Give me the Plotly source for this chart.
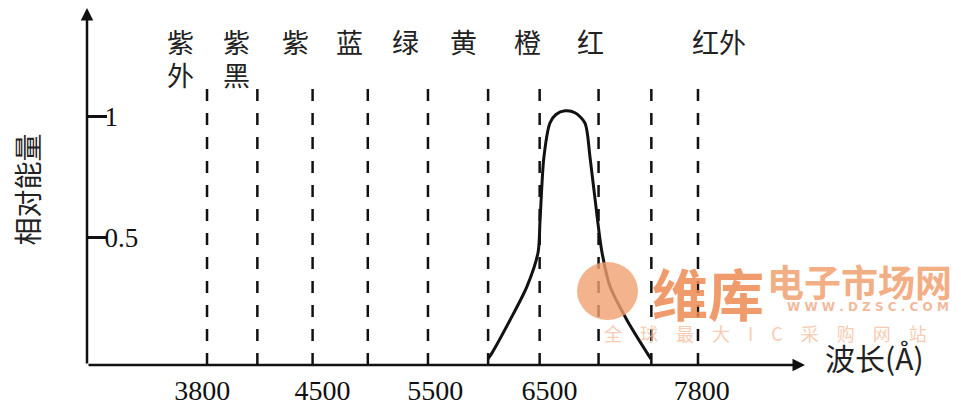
import plotly.graph_objects as go

# ---- data (schematic wavelength scale) ----
boundaries = [3800, 4210, 4660, 5110, 5600, 6090, 6510, 6990, 7420, 7800]
band_line1 = ["紫", "紫", "紫", "蓝", "绿", "黄", "橙", "红", "红外"]
band_line2 = ["外", "黑", "", "", "", "", "", "", ""]
band_label_x = [3580, 4036, 4517, 4957, 5413, 5886, 6415, 6928, 7971]
tick_pos = [3760, 4740, 5660, 6590, 7830]
tick_text = ["3800", "4500", "5500", "6500", "7800"]
curve_x = [6089, 6122, 6268, 6407, 6497, 6513, 6545, 6594, 6643, 6717,
           6798, 6879, 6920, 6985, 7018, 7083, 7222, 7385, 7417]
curve_y = [0.0, 0.025, 0.16, 0.30, 0.44, 0.57, 0.835, 0.975, 1.01, 1.025,
           1.017, 0.975, 0.835, 0.56, 0.44, 0.30, 0.16, 0.025, 0.0]
y_ticks = [0.5, 1]
y_tick_text = ["0.5", "1"]

X0, X1 = 2822, 8672
Y0, Y1 = -0.025, 1.45
LINE_TOP = 1.14

serif = "Liberation Serif, Times New Roman, serif"
cjk = "Noto Sans CJK SC, Noto Sans, sans-serif"

fig = go.Figure()

# dashed boundary lines
dx, dy = [], []
for b in boundaries:
    dx += [b, b, None]
    dy += [Y0, LINE_TOP, None]
fig.add_trace(go.Scatter(x=dx, y=dy, mode="lines",
                         line=dict(color="#111", width=2.5, dash="12px,12px"),
                         hoverinfo="skip", showlegend=False))

# relative energy curve
fig.add_trace(go.Scatter(x=curve_x, y=curve_y, mode="lines",
                         line=dict(color="#111", width=3, shape="spline", smoothing=0.8),
                         showlegend=False))

ann = []
# axes with arrows
ann.append(dict(x=X1, y=Y0, ax=X0, ay=Y0, xref="x", yref="y", axref="x", ayref="y",
                showarrow=True, arrowhead=2, arrowsize=1, arrowwidth=2.5,
                arrowcolor="#111", text=""))
ann.append(dict(x=X0, y=Y1, ax=X0, ay=Y0, xref="x", yref="y", axref="x", ayref="y",
                showarrow=True, arrowhead=2, arrowsize=1, arrowwidth=2.5,
                arrowcolor="#111", text=""))

# band labels (two rows)
for t1, t2, bx in zip(band_line1, band_line2, band_label_x):
    ann.append(dict(x=bx, y=1.31, xref="x", yref="y", text=t1, showarrow=False,
                    xanchor="center", yanchor="middle",
                    font=dict(family=cjk, size=27, color="#222")))
    if t2:
        ann.append(dict(x=bx, y=1.175, xref="x", yref="y", text=t2, showarrow=False,
                        xanchor="center", yanchor="middle",
                        font=dict(family=cjk, size=27, color="#222")))

# axis titles
ann.append(dict(x=X1, y=Y0, xref="x", yref="y", text="波长(Å)", showarrow=False,
                xanchor="left", yanchor="middle", xshift=18, yshift=8,
                font=dict(family=cjk, size=30, color="#222")))
ann.append(dict(x=X0, y=0.70, xref="x", yref="y", text="相对能量", showarrow=False,
                textangle=-90, xanchor="center", yanchor="middle", xshift=-60,
                font=dict(family=cjk, size=28, color="#222")))

# watermark
ann.append(dict(x=0.865, y=0.207, xref="paper", yref="paper", text="<b>维库</b>",
                showarrow=False, xanchor="center", yanchor="middle",
                font=dict(family=cjk, size=56, color="#ee8a52"), opacity=0.85))
ann.append(dict(x=1.076, y=0.235, xref="paper", yref="paper", text="<b>电子市场网</b>",
                showarrow=False, xanchor="center", yanchor="middle",
                font=dict(family=cjk, size=37, color="#f09a66"), opacity=0.8))
ann.append(dict(x=1.088, y=0.162, xref="paper", yref="paper",
                text="<b>W W W . D Z S C . C O M</b>",
                showarrow=False, xanchor="center", yanchor="middle",
                font=dict(family="DejaVu Sans", size=12, color="#f0aa85"), opacity=0.8))
ann.append(dict(x=0.945, y=0.09, xref="paper", yref="paper",
                text="全　球　最　大　I　C　采　购　网　站",
                showarrow=False, xanchor="center", yanchor="middle",
                font=dict(family=cjk, size=18, color="#f5bb99"), opacity=0.75))

fig.update_layout(
    width=953, height=399,
    margin=dict(l=79, r=156, t=0, b=42, autoexpand=False),
    paper_bgcolor="white", plot_bgcolor="white",
    annotations=ann,
    shapes=[dict(type="circle", xref="paper", yref="paper",
                 x0=0.6825, x1=0.7674, y0=0.126, y1=0.2885,
                 fillcolor="#f0a070", line=dict(width=0), opacity=0.8, layer="above")],
    xaxis=dict(range=[X0, X1], showgrid=False, zeroline=False, showline=False,
               automargin=False,
               tickvals=tick_pos, ticktext=tick_text, ticks="",
               tickfont=dict(family=serif, size=28, color="#111"),
               ticklabelstandoff=6),
    yaxis=dict(range=[Y0, Y1], showgrid=False, zeroline=False, showline=False,
               automargin=False,
               tickvals=y_ticks, ticktext=y_tick_text, ticks="inside", ticklen=20,
               tickwidth=2.5, tickcolor="#111", ticklabelposition="inside",
               tickfont=dict(family=serif, size=27, color="#111")),
)

fig.write_html("out.html")
